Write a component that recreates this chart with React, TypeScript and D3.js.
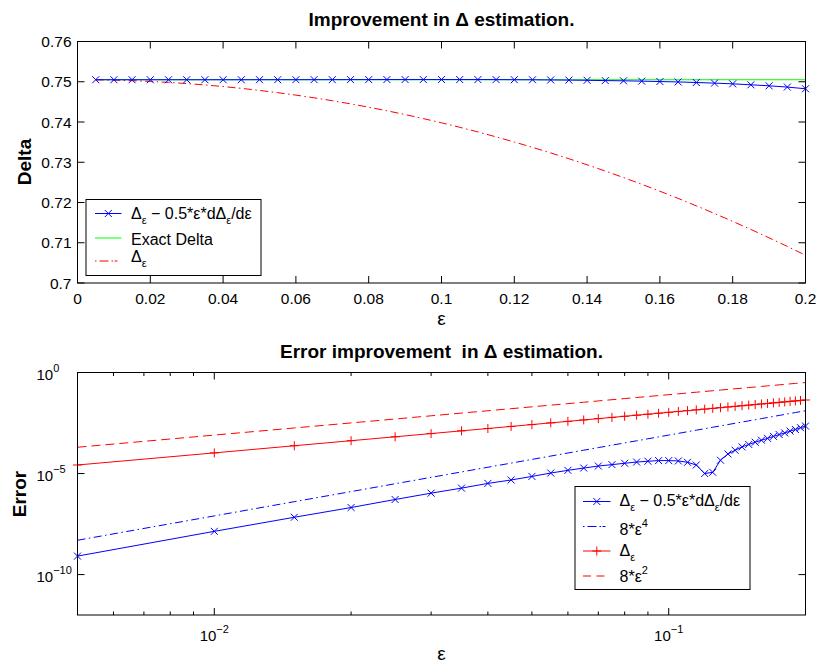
import React from 'react';
import * as d3 from 'd3';

// ---------- data ----------
const EPS = [0.005, 0.01, 0.015, 0.02, 0.025, 0.03, 0.035, 0.04, 0.045, 0.05, 0.055, 0.06, 0.065, 0.07, 0.075, 0.08, 0.085, 0.09, 0.095, 0.1, 0.105, 0.11, 0.115, 0.12, 0.125, 0.13, 0.135, 0.14, 0.145, 0.15, 0.155, 0.16, 0.165, 0.17, 0.175, 0.18, 0.185, 0.19, 0.195, 0.2];

// top panel
const DELTA_CORRECTED = [0.7505, 0.7505, 0.7505, 0.7505, 0.7505, 0.7505, 0.7505, 0.7505, 0.7505, 0.75051, 0.75051, 0.75051, 0.75052, 0.75052, 0.75053, 0.75053, 0.75054, 0.75054, 0.75054, 0.75054, 0.75054, 0.75054, 0.75053, 0.75051, 0.75049, 0.75045, 0.75041, 0.75036, 0.75029, 0.75023, 0.75015, 0.75005, 0.74995, 0.74981, 0.74966, 0.74948, 0.74924, 0.74899, 0.74868, 0.74826];
const EXACT_X = [0.005, 0.2];
const EXACT_DELTA = [0.7505, 0.7505];
const DELTA_EPS = [0.75047, 0.7504, 0.75026, 0.75008, 0.74984, 0.74955, 0.74921, 0.74881, 0.74836, 0.74785, 0.74729, 0.74668, 0.74601, 0.74529, 0.74451, 0.74368, 0.74279, 0.74185, 0.74085, 0.7398, 0.73869, 0.73753, 0.73631, 0.73503, 0.7337, 0.73232, 0.73087, 0.72937, 0.72781, 0.7262, 0.72453, 0.7228, 0.72102, 0.71917, 0.71727, 0.71531, 0.7133, 0.71122, 0.70909, 0.7069];

// bottom panel
const ERR_CORRECTED = [8.2e-10, 1.38e-8, 6.85e-8, 2.08e-7, 5.2e-7, 1.07e-6, 1.9e-6, 3.25e-6, 4.8e-6, 7.2e-6, 1.06e-5, 1.44e-5, 1.87e-5, 2.35e-5, 2.76e-5, 3.22e-5, 3.7e-5, 4.07e-5, 4.37e-5, 4.37e-5, 4.19e-5, 3.6e-5, 2.65e-5, 1.0e-5, 1.15e-5, 4.55e-5, 9.3e-5, 1.42e-4, 2.08e-4, 2.75e-4, 3.55e-4, 4.47e-4, 5.5e-4, 6.9e-4, 8.5e-4, 1.02e-3, 1.26e-3, 1.51e-3, 1.86e-3, 2.24e-3];
const EIGHT_EPS4 = [5e-9, 8e-8, 4.05e-7, 1.28e-6, 3.125e-6, 6.48e-6, 1.2005e-5, 2.048e-5, 3.2805e-5, 5e-5, 7.3205e-5, 1.0368e-4, 1.42805e-4, 1.9208e-4, 2.53125e-4, 3.2768e-4, 4.17605e-4, 5.2488e-4, 6.51605e-4, 8e-4, 9.72405e-4, 1.17128e-3, 1.399205e-3, 1.65888e-3, 1.953125e-3, 2.28488e-3, 2.657205e-3, 3.07328e-3, 3.536405e-3, 4.05e-3, 4.617605e-3, 5.24288e-3, 5.929605e-3, 6.68168e-3, 7.503125e-3, 8.39808e-3, 9.370805e-3, 1.042568e-2, 1.1567205e-2, 1.28e-2];
const ERR_DELTA_EPS = [2.65e-5, 1.05e-4, 2.37e-4, 4.22e-4, 6.59e-4, 9.5e-4, 1.295e-3, 1.693e-3, 2.144e-3, 2.65e-3, 3.21e-3, 3.823e-3, 4.491e-3, 5.214e-3, 5.991e-3, 6.822e-3, 7.709e-3, 8.651e-3, 9.648e-3, 0.0107, 0.011808, 0.012971, 0.01419, 0.015466, 0.016797, 0.018184, 0.019628, 0.021129, 0.022686, 0.0243, 0.025971, 0.027699, 0.029485, 0.031328, 0.033228, 0.035186, 0.037203, 0.039277, 0.041409, 0.0436];
const EIGHT_EPS2 = [2e-4, 8e-4, 1.8e-3, 3.2e-3, 5e-3, 7.2e-3, 9.8e-3, 1.28e-2, 1.62e-2, 2e-2, 2.42e-2, 2.88e-2, 3.38e-2, 3.92e-2, 4.5e-2, 5.12e-2, 5.78e-2, 6.48e-2, 7.22e-2, 8e-2, 8.82e-2, 9.68e-2, 0.1058, 0.1152, 0.125, 0.1352, 0.1458, 0.1568, 0.1682, 0.18, 0.1922, 0.2048, 0.2178, 0.2312, 0.245, 0.2592, 0.2738, 0.2888, 0.3042, 0.32];

// ticks
const TOP_X_TICKS = [0, 0.02, 0.04, 0.06, 0.08, 0.1, 0.12, 0.14, 0.16, 0.18, 0.2];
const TOP_X_LABELS = ['0', '0.02', '0.04', '0.06', '0.08', '0.1', '0.12', '0.14', '0.16', '0.18', '0.2'];
const TOP_Y_TICKS = [0.7, 0.71, 0.72, 0.73, 0.74, 0.75, 0.76];
const TOP_Y_LABELS = ['0.7', '0.71', '0.72', '0.73', '0.74', '0.75', '0.76'];
const BOT_X_MAJOR = [0.01, 0.1];
const BOT_X_EXP = ['−2', '−1'];
const BOT_X_MINOR = [0.006, 0.007, 0.008, 0.009, 0.02, 0.03, 0.04, 0.05, 0.06, 0.07, 0.08, 0.09, 0.2];
const BOT_Y_MAJOR = [1, 1e-5, 1e-10];
const BOT_Y_EXP = ['0', '−5', '−10'];

// ---------- layout ----------
const W = 819, H = 664;
const FONT = "'Liberation Sans', Arial, Helvetica, sans-serif";
const L = 77.5, R = 805.5;
const T1 = 41.5, B1 = 283;
const T2 = 372.5, B2 = 615;
const TICK = 7, MINOR = 3.5;
const BLUE = '#0000ff', RED = '#ff0000', GREEN = '#00ff00';
const DASHDOT = '8,3.5,1.5,3.5';
const DASHED = '9,5';

const xMark = (cx: number, cy: number, s = 3.5) =>
  `M${cx - s},${cy - s}L${cx + s},${cy + s}M${cx - s},${cy + s}L${cx + s},${cy - s}`;
const plusMark = (cx: number, cy: number, s = 4.5) =>
  `M${cx - s},${cy}L${cx + s},${cy}M${cx},${cy - s}L${cx},${cy + s}`;

function Sub({ children }: { children: string }) {
  return <tspan dy={5} fontSize={11}>{children}</tspan>;
}

function CorrLabel() {
  return (
    <>
      <tspan>Δ</tspan>
      <tspan dy={5} fontSize={11}>ε</tspan>
      <tspan dy={-5}> − 0.5*ε*dΔ</tspan>
      <tspan dy={5} fontSize={11}>ε</tspan>
      <tspan dy={-5}>/dε</tspan>
    </>
  );
}

export default function App() {
  const x1 = d3.scaleLinear().domain([0, 0.2]).range([L, R]);
  const y1 = d3.scaleLinear().domain([0.7, 0.76]).range([B1, T1]);
  const x2 = d3.scaleLog().domain([0.005, 0.2]).range([L, R]);
  const y2 = d3.scaleLog().domain([1e-12, 1]).range([B2, T2]);

  const mk = (xs: number[], ys: number[], xs_: (v: number) => number, ys_: (v: number) => number) =>
    d3.line<number>().x((_, i) => xs_(xs[i])).y((_, i) => ys_(ys[i]))(ys) as string;

  const topCorr = mk(EPS, DELTA_CORRECTED, x1, y1);
  const topExact = mk(EXACT_X, EXACT_DELTA, x1, y1);
  const topEps = mk(EPS, DELTA_EPS, x1, y1);

  const botCorr = mk(EPS, ERR_CORRECTED, x2, y2);
  const bot4 = mk(EPS, EIGHT_EPS4, x2, y2);
  const botEps = mk(EPS, ERR_DELTA_EPS, x2, y2);
  const bot2 = mk(EPS, EIGHT_EPS2, x2, y2);

  return (
    <svg width={W} height={H} viewBox={`0 0 ${W} ${H}`}
      style={{ position: 'absolute', left: 0, top: 0, background: '#fff' }}
      fontFamily={FONT}>
      <rect x={0} y={0} width={W} height={H} fill="#fff" />

      {/* ================= TOP PANEL ================= */}
      <text x={(L + R) / 2} y={26} textAnchor="middle" fontSize={19} fontWeight="bold">Improvement in Δ estimation.</text>

      {/* data */}
      <path d={topExact} fill="none" stroke={GREEN} strokeWidth={1} />
      <path d={topEps} fill="none" stroke={RED} strokeWidth={1} strokeDasharray={DASHDOT} />
      <path d={topCorr} fill="none" stroke={BLUE} strokeWidth={1} />
      {EPS.map((e, i) => (
        <path key={'tx' + i} d={xMark(x1(e), y1(DELTA_CORRECTED[i]))} stroke={BLUE} strokeWidth={1} fill="none" />
      ))}

      {/* axes box & ticks */}
      <rect x={L} y={T1} width={R - L} height={B1 - T1} fill="none" stroke="#000" strokeWidth={1} />
      {TOP_X_TICKS.map((t, i) => (
        <g key={'txt' + i}>
          <line x1={x1(t)} x2={x1(t)} y1={B1} y2={B1 - TICK} stroke="#000" />
          <line x1={x1(t)} x2={x1(t)} y1={T1} y2={T1 + TICK} stroke="#000" />
          <text x={x1(t)} y={304} textAnchor="middle" fontSize={15.5}>{TOP_X_LABELS[i]}</text>
        </g>
      ))}
      {TOP_Y_TICKS.map((t, i) => (
        <g key={'tyt' + i}>
          <line x1={L} x2={L + TICK} y1={y1(t)} y2={y1(t)} stroke="#000" />
          <line x1={R} x2={R - TICK} y1={y1(t)} y2={y1(t)} stroke="#000" />
          <text x={71.5} y={y1(t) + 5.5} textAnchor="end" fontSize={15.5}>{TOP_Y_LABELS[i]}</text>
        </g>
      ))}
      <text x={(L + R) / 2} y={325} textAnchor="middle" fontSize={19}>ε</text>
      <text transform="translate(31,162) rotate(-90)" textAnchor="middle" fontSize={19} fontWeight="bold">Delta</text>

      {/* legend */}
      <rect x={86} y={199.5} width={175} height={76} fill="#fff" stroke="#000" strokeWidth={1} />
      <line x1={95} x2={121.5} y1={213.5} y2={213.5} stroke={BLUE} />
      <path d={xMark(108.3, 213.5)} stroke={BLUE} fill="none" />
      <text x={131} y={219} fontSize={16}><CorrLabel /></text>
      <line x1={95} x2={121.5} y1={238} y2={238} stroke={GREEN} />
      <text x={131} y={244.5} fontSize={16}>Exact Delta</text>
      <line x1={95} x2={121.5} y1={261} y2={261} stroke={RED} strokeDasharray="1.5,3,9,3,1.5" />
      <text x={131} y={261.5} fontSize={16}>Δ<Sub>ε</Sub></text>

      {/* ================= BOTTOM PANEL ================= */}
      <text x={(L + R) / 2} y={358} textAnchor="middle" fontSize={19} fontWeight="bold" style={{ whiteSpace: 'pre' }}>Error improvement  in Δ estimation.</text>

      <path d={bot2} fill="none" stroke={RED} strokeWidth={1} strokeDasharray={DASHED} />
      <path d={botEps} fill="none" stroke={RED} strokeWidth={1} />
      {EPS.map((e, i) => (
        <path key={'bp' + i} d={plusMark(x2(e), y2(ERR_DELTA_EPS[i]))} stroke={RED} strokeWidth={1} fill="none" />
      ))}
      <path d={bot4} fill="none" stroke={BLUE} strokeWidth={1} strokeDasharray={DASHDOT} />
      <path d={botCorr} fill="none" stroke={BLUE} strokeWidth={1} />
      {EPS.map((e, i) => (
        <path key={'bx' + i} d={xMark(x2(e), y2(ERR_CORRECTED[i]))} stroke={BLUE} strokeWidth={1} fill="none" />
      ))}

      <rect x={L} y={T2} width={R - L} height={B2 - T2} fill="none" stroke="#000" strokeWidth={1} />
      {BOT_X_MAJOR.map((t, i) => (
        <g key={'bxm' + i}>
          <line x1={x2(t)} x2={x2(t)} y1={B2} y2={B2 - TICK} stroke="#000" />
          <line x1={x2(t)} x2={x2(t)} y1={T2} y2={T2 + TICK} stroke="#000" />
          <text x={x2(t)} y={641} textAnchor="middle" fontSize={15}>
            10<tspan dy={-8} fontSize={11}>{BOT_X_EXP[i]}</tspan>
          </text>
        </g>
      ))}
      {BOT_X_MINOR.map((t, i) => (
        <g key={'bxn' + i}>
          <line x1={x2(t)} x2={x2(t)} y1={B2} y2={B2 - MINOR} stroke="#000" />
          <line x1={x2(t)} x2={x2(t)} y1={T2} y2={T2 + MINOR} stroke="#000" />
        </g>
      ))}
      {BOT_Y_MAJOR.map((t, i) => (
        <g key={'bym' + i}>
          <line x1={L} x2={L + TICK} y1={y2(t)} y2={y2(t)} stroke="#000" />
          <line x1={R} x2={R - TICK} y1={y2(t)} y2={y2(t)} stroke="#000" />
          <text x={36.5} y={y2(t) + 7} textAnchor="start" fontSize={15}>
            10<tspan dy={-8} fontSize={11}>{BOT_Y_EXP[i]}</tspan>
          </text>
        </g>
      ))}
      <text x={(L + R) / 2} y={660} textAnchor="middle" fontSize={19}>ε</text>
      <text transform="translate(25.5,494) rotate(-90)" textAnchor="middle" fontSize={19} fontWeight="bold">Error</text>

      {/* legend */}
      <rect x={575} y={486.5} width={175} height={103} fill="#fff" stroke="#000" strokeWidth={1} />
      <line x1={583} x2={610.5} y1={501.5} y2={501.5} stroke={BLUE} />
      <path d={xMark(596.8, 501.5)} stroke={BLUE} fill="none" />
      <text x={619.5} y={506} fontSize={16}><CorrLabel /></text>
      <line x1={583} x2={610.5} y1={526.5} y2={526.5} stroke={BLUE} strokeDasharray="1.5,3,9,3,1.5" />
      <text x={619.5} y={535} fontSize={16}>8*ε<tspan dy={-8} fontSize={11}>4</tspan></text>
      <line x1={583} x2={610.5} y1={551} y2={551} stroke={RED} />
      <path d={plusMark(596.8, 551)} stroke={RED} fill="none" />
      <text x={619.5} y={555.5} fontSize={16}>Δ<Sub>ε</Sub></text>
      <line x1={583} x2={610.5} y1={576} y2={576} stroke={RED} strokeDasharray="8,5.5,8" />
      <text x={619.5} y={581.5} fontSize={16}>8*ε<tspan dy={-8} fontSize={11}>2</tspan></text>
    </svg>
  );
}
